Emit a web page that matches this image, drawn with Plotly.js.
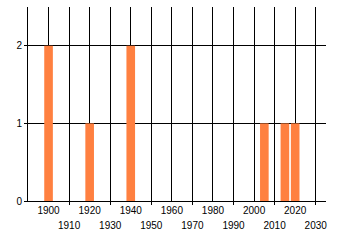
<!DOCTYPE html>
<html><head><meta charset="utf-8">
<script src="https://cdn.plot.ly/plotly-3.0.1.min.js"></script>
<style>html,body{margin:0;padding:0;background:#fff;}#c{width:340px;height:245px;}</style>
</head><body><div id="c"></div>
<script>
const years = [1900, 1920, 1940, 2005, 2015, 2020];
const counts = [2, 1, 2, 1, 1, 1];
const xTickVals = [1900,1910,1920,1930,1940,1950,1960,1970,1980,1990,2000,2010,2020,2030];
const xTickText = xTickVals.map((v,i)=> i%2===0 ? String(v) : '');
const xRow2Vals = xTickVals.filter((v,i)=>i%2===1);
const xRow2Text = xRow2Vals.map(String);
const yTickVals = [0,1,2];

const font = {family:'"Liberation Sans", Arial, sans-serif', size:10, color:'#000'};
const data = [
  {type:'bar', x:years, y:counts, width:4.2, marker:{color:'#FF8040', line:{width:0}}, hoverinfo:'none'},
  {type:'scatter', x:[], y:[], xaxis:'x2', yaxis:'y', hoverinfo:'none', showlegend:false}
];
const layout = {
  width:340, height:245, margin:{l:28, r:14, t:7, b:44},
  paper_bgcolor:'#fff', plot_bgcolor:'#fff', showlegend:false, font:font,
  xaxis:{range:[1890,2035], tickmode:'array', tickvals:xTickVals, ticktext:xTickText,
    showgrid:true, gridcolor:'#000', gridwidth:1, zeroline:false,
    showline:true, linecolor:'#000', linewidth:1, ticks:'', tickangle:0, tickfont:font, fixedrange:true},
  xaxis2:{range:[1890,2035], overlaying:'x', anchor:'y', side:'bottom', tickmode:'array', tickvals:xRow2Vals, ticktext:xRow2Text,
    ticks:'outside', ticklen:3, tickcolor:'#000', showticklabels:true, ticklabelstandoff:12, tickangle:0, tickfont:font,
    showgrid:false, zeroline:false, showline:false},
  yaxis:{range:[0,2.5], tickmode:'array', tickvals:yTickVals, showgrid:true, gridcolor:'#000', gridwidth:1,
    zeroline:false, showline:true, linecolor:'#000', linewidth:1, ticks:'outside', ticklen:3, tickcolor:'#000',
    tickfont:font, fixedrange:true}
};
Plotly.newPlot('c', data, layout, {staticPlot:true, displayModeBar:false});
</script></body></html>
